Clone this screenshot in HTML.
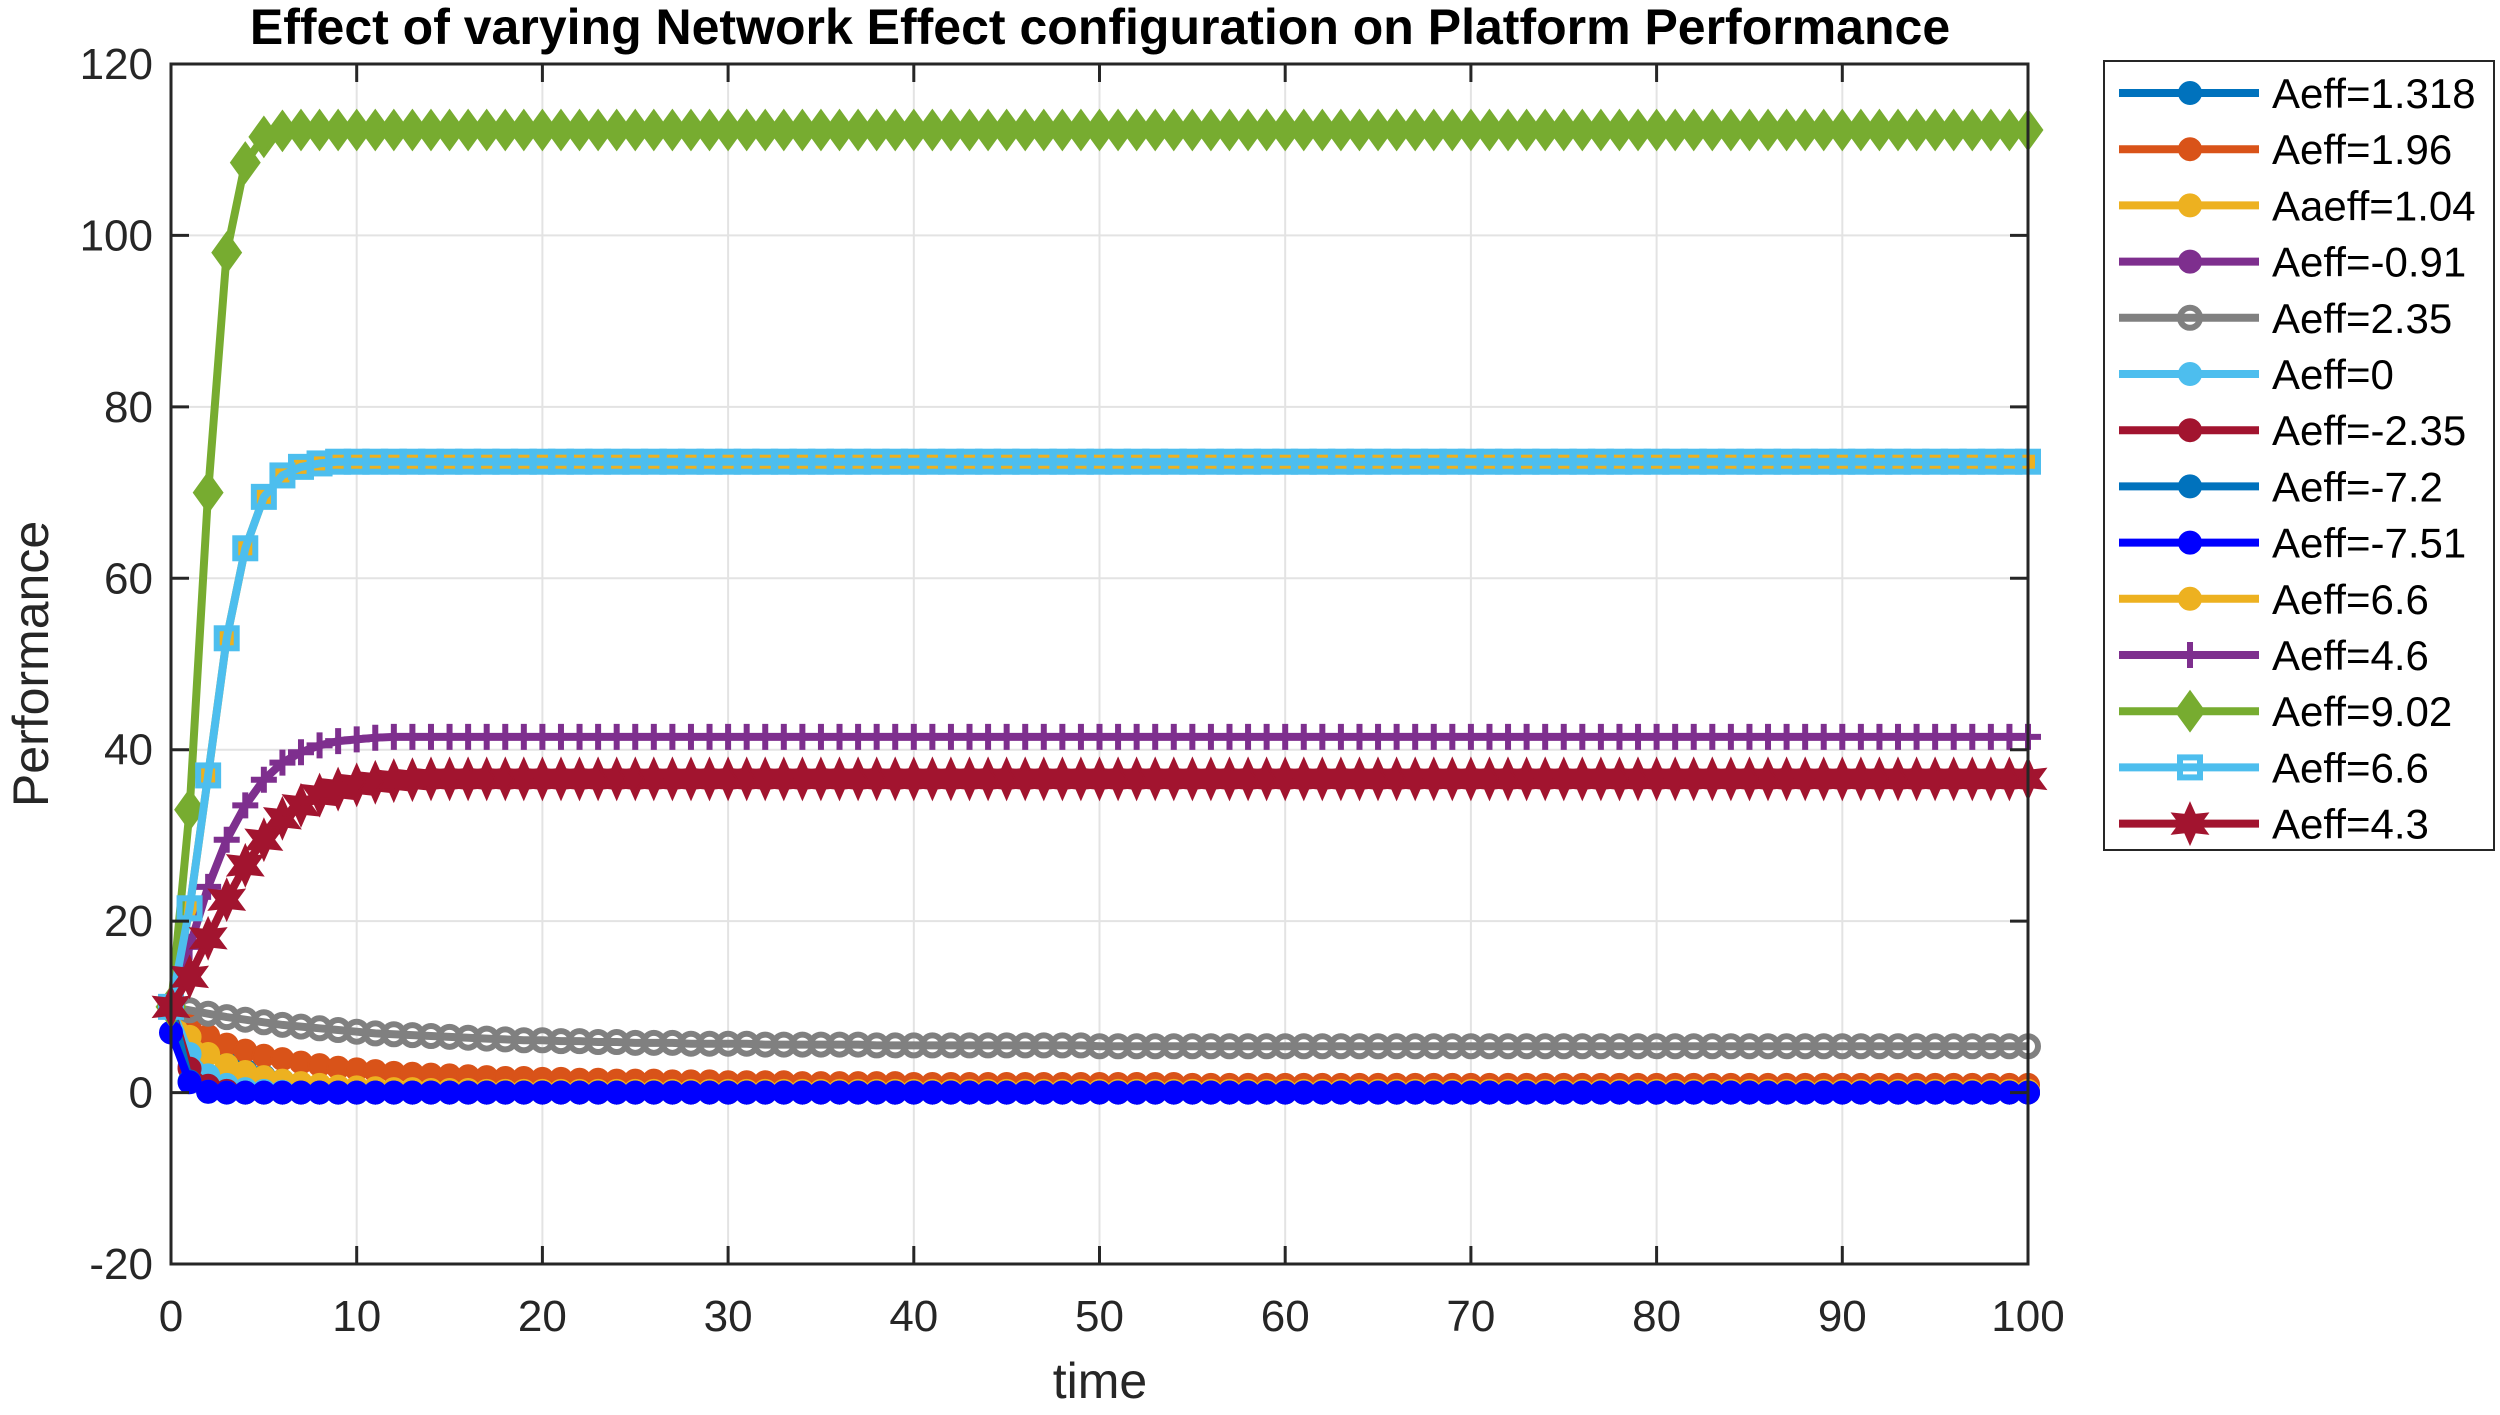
<!DOCTYPE html>
<html><head><meta charset="utf-8"><style>
html,body{margin:0;padding:0;background:#fff;}
svg{display:block;font-family:"Liberation Sans",Arial,sans-serif;}
</style></head><body>
<svg id="chart" width="2500" height="1415" viewBox="0 0 2500 1415">
<rect width="2500" height="1415" fill="#fff"/>
<text x="1100" y="44" text-anchor="middle" font-size="50" font-weight="bold" fill="#000">Effect of varying Network Effect configuration on Platform Performance</text>
<g id="grid"></g>
<g id="series"></g>
<g id="axes"></g>
<text x="1100" y="1398" text-anchor="middle" font-size="50" fill="#262626">time</text>
<text transform="translate(48,664) rotate(-90)" text-anchor="middle" font-size="50" fill="#262626">Performance</text>
<g id="legend"></g>
</svg>
<script>
const xTicks = [0,10,20,30,40,50,60,70,80,90,100];
const yTicks = [-20,0,20,40,60,80,100,120];
const times = [0,1,2,3,4,5,6,7,8,9,10,11,12,13,14,15,16,17,18,19,20,21,22,23,24,25,26,27,28,29,30,31,32,33,34,35,36,37,38,39,40,41,42,43,44,45,46,47,48,49,50,51,52,53,54,55,56,57,58,59,60,61,62,63,64,65,66,67,68,69,70,71,72,73,74,75,76,77,78,79,80,81,82,83,84,85,86,87,88,89,90,91,92,93,94,95,96,97,98,99,100];
const labels = ["Aeff=1.318","Aeff=1.96","Aaeff=1.04","Aeff=-0.91","Aeff=2.35","Aeff=0","Aeff=-2.35","Aeff=-7.2","Aeff=-7.51","Aeff=6.6","Aeff=4.6","Aeff=9.02","Aeff=6.6","Aeff=4.3"];
const s1318 = [10,7,5,3.6,2.6,1.9,1.4,1,0.8,0.6,0.5,0.4,0.3,0.3,0.2,0.2,0.2,0.1,0.1,0.1,0.1,0.1,0.1,0.1,0.1,0.1,0.1,0.1,0.1,0.1,0.1,0.1,0.1,0.1,0.1,0.1,0.1,0.1,0.1,0.1,0.1,0.1,0.1,0.1,0.1,0.1,0.1,0.1,0.1,0.1,0.1,0.1,0.1,0.1,0.1,0.1,0.1,0.1,0.1,0.1,0.1,0.1,0.1,0.1,0.1,0.1,0.1,0.1,0.1,0.1,0.1,0.1,0.1,0.1,0.1,0.1,0.1,0.1,0.1,0.1,0.1,0.1,0.1,0.1,0.1,0.1,0.1,0.1,0.1,0.1,0.1,0.1,0.1,0.1,0.1,0.1,0.1,0.1,0.1,0.1,0.1];
const s196 = [10,8,6.6,5.6,4.9,4.3,3.9,3.5,3.2,2.9,2.7,2.5,2.3,2.2,2.1,2,1.9,1.8,1.7,1.7,1.6,1.6,1.5,1.5,1.4,1.4,1.4,1.3,1.3,1.3,1.2,1.2,1.2,1.2,1.1,1.1,1.1,1.1,1.1,1.1,1,1,1,1,1,1,1,1,1,1,1,1,1,1,1,0.9,0.9,0.9,0.9,0.9,0.9,0.9,0.9,0.9,0.9,0.9,0.9,0.9,0.9,0.9,0.9,0.9,0.9,0.9,0.9,0.9,0.9,0.9,0.9,0.9,0.9,0.9,0.9,0.9,0.9,0.9,0.9,0.9,0.9,0.9,0.9,0.9,0.9,0.9,0.9,0.9,0.9,0.9,0.9,0.9,0.9];
const s104 = [10,6.5,4.5,3.2,2.4,1.8,1.4,1.1,0.9,0.7,0.6,0.5,0.4,0.4,0.3,0.3,0.3,0.2,0.2,0.2,0.2,0.2,0.2,0.2,0.2,0.2,0.2,0.2,0.2,0.2,0.2,0.2,0.2,0.2,0.2,0.2,0.2,0.2,0.2,0.2,0.2,0.2,0.2,0.2,0.2,0.2,0.2,0.2,0.2,0.2,0.2,0.2,0.2,0.2,0.2,0.2,0.2,0.2,0.2,0.2,0.2,0.2,0.2,0.2,0.2,0.2,0.2,0.2,0.2,0.2,0.2,0.2,0.2,0.2,0.2,0.2,0.2,0.2,0.2,0.2,0.2,0.2,0.2,0.2,0.2,0.2,0.2,0.2,0.2,0.2,0.2,0.2,0.2,0.2,0.2,0.2,0.2,0.2,0.2,0.2,0.2];
const sm091 = [10,3,0.8,0.2,0,0,0,0,0,0,0,0,0,0,0,0,0,0,0,0,0,0,0,0,0,0,0,0,0,0,0,0,0,0,0,0,0,0,0,0,0,0,0,0,0,0,0,0,0,0,0,0,0,0,0,0,0,0,0,0,0,0,0,0,0,0,0,0,0,0,0,0,0,0,0,0,0,0,0,0,0,0,0,0,0,0,0,0,0,0,0,0,0,0,0,0,0,0,0,0,0];
const s235 = [10,9.6,9.2,8.8,8.5,8.2,7.9,7.7,7.5,7.3,7.1,6.9,6.8,6.7,6.6,6.5,6.4,6.3,6.2,6.1,6.1,6,6,5.9,5.9,5.8,5.8,5.8,5.7,5.7,5.7,5.7,5.6,5.6,5.6,5.6,5.6,5.6,5.5,5.5,5.5,5.5,5.5,5.5,5.5,5.5,5.5,5.5,5.5,5.5,5.4,5.4,5.4,5.4,5.4,5.4,5.4,5.4,5.4,5.4,5.4,5.4,5.4,5.4,5.4,5.4,5.4,5.4,5.4,5.4,5.4,5.4,5.4,5.4,5.4,5.4,5.4,5.4,5.4,5.4,5.4,5.4,5.4,5.4,5.4,5.4,5.4,5.4,5.4,5.4,5.4,5.4,5.4,5.4,5.4,5.4,5.4,5.4,5.4,5.4,5.4];
const s0 = [10,4.5,2,0.9,0.4,0.2,0.1,0,0,0,0,0,0,0,0,0,0,0,0,0,0,0,0,0,0,0,0,0,0,0,0,0,0,0,0,0,0,0,0,0,0,0,0,0,0,0,0,0,0,0,0,0,0,0,0,0,0,0,0,0,0,0,0,0,0,0,0,0,0,0,0,0,0,0,0,0,0,0,0,0,0,0,0,0,0,0,0,0,0,0,0,0,0,0,0,0,0,0,0,0,0];
const sm235 = [10,2.8,0.8,0.2,0,0,0,0,0,0,0,0,0,0,0,0,0,0,0,0,0,0,0,0,0,0,0,0,0,0,0,0,0,0,0,0,0,0,0,0,0,0,0,0,0,0,0,0,0,0,0,0,0,0,0,0,0,0,0,0,0,0,0,0,0,0,0,0,0,0,0,0,0,0,0,0,0,0,0,0,0,0,0,0,0,0,0,0,0,0,0,0,0,0,0,0,0,0,0,0,0];
const sm72 = [10,1.3,0.1,0,0,0,0,0,0,0,0,0,0,0,0,0,0,0,0,0,0,0,0,0,0,0,0,0,0,0,0,0,0,0,0,0,0,0,0,0,0,0,0,0,0,0,0,0,0,0,0,0,0,0,0,0,0,0,0,0,0,0,0,0,0,0,0,0,0,0,0,0,0,0,0,0,0,0,0,0,0,0,0,0,0,0,0,0,0,0,0,0,0,0,0,0,0,0,0,0,0];
const sm751 = [7,1.2,0.1,0,0,0,0,0,0,0,0,0,0,0,0,0,0,0,0,0,0,0,0,0,0,0,0,0,0,0,0,0,0,0,0,0,0,0,0,0,0,0,0,0,0,0,0,0,0,0,0,0,0,0,0,0,0,0,0,0,0,0,0,0,0,0,0,0,0,0,0,0,0,0,0,0,0,0,0,0,0,0,0,0,0,0,0,0,0,0,0,0,0,0,0,0,0,0,0,0,0];
const s66a = [10,21.5,37,53,63.5,69.5,72,73,73.4,73.6,73.6,73.6,73.6,73.6,73.6,73.6,73.6,73.6,73.6,73.6,73.6,73.6,73.6,73.6,73.6,73.6,73.6,73.6,73.6,73.6,73.6,73.6,73.6,73.6,73.6,73.6,73.6,73.6,73.6,73.6,73.6,73.6,73.6,73.6,73.6,73.6,73.6,73.6,73.6,73.6,73.6,73.6,73.6,73.6,73.6,73.6,73.6,73.6,73.6,73.6,73.6,73.6,73.6,73.6,73.6,73.6,73.6,73.6,73.6,73.6,73.6,73.6,73.6,73.6,73.6,73.6,73.6,73.6,73.6,73.6,73.6,73.6,73.6,73.6,73.6,73.6,73.6,73.6,73.6,73.6,73.6,73.6,73.6,73.6,73.6,73.6,73.6,73.6,73.6,73.6,73.6];
const s46 = [10,17,24,29.5,33.5,36.5,38.5,39.7,40.5,41,41.2,41.4,41.5,41.5,41.5,41.5,41.5,41.5,41.5,41.5,41.5,41.5,41.5,41.5,41.5,41.5,41.5,41.5,41.5,41.5,41.5,41.5,41.5,41.5,41.5,41.5,41.5,41.5,41.5,41.5,41.5,41.5,41.5,41.5,41.5,41.5,41.5,41.5,41.5,41.5,41.5,41.5,41.5,41.5,41.5,41.5,41.5,41.5,41.5,41.5,41.5,41.5,41.5,41.5,41.5,41.5,41.5,41.5,41.5,41.5,41.5,41.5,41.5,41.5,41.5,41.5,41.5,41.5,41.5,41.5,41.5,41.5,41.5,41.5,41.5,41.5,41.5,41.5,41.5,41.5,41.5,41.5,41.5,41.5,41.5,41.5,41.5,41.5,41.5,41.5,41.5];
const s902 = [10,33,70,98,108.5,111.5,112.2,112.3,112.3,112.3,112.3,112.3,112.3,112.3,112.3,112.3,112.3,112.3,112.3,112.3,112.3,112.3,112.3,112.3,112.3,112.3,112.3,112.3,112.3,112.3,112.3,112.3,112.3,112.3,112.3,112.3,112.3,112.3,112.3,112.3,112.3,112.3,112.3,112.3,112.3,112.3,112.3,112.3,112.3,112.3,112.3,112.3,112.3,112.3,112.3,112.3,112.3,112.3,112.3,112.3,112.3,112.3,112.3,112.3,112.3,112.3,112.3,112.3,112.3,112.3,112.3,112.3,112.3,112.3,112.3,112.3,112.3,112.3,112.3,112.3,112.3,112.3,112.3,112.3,112.3,112.3,112.3,112.3,112.3,112.3,112.3,112.3,112.3,112.3,112.3,112.3,112.3,112.3,112.3,112.3,112.3];
const s66b = [10,21.5,37,53,63.5,69.5,72,73,73.4,73.6,73.6,73.6,73.6,73.6,73.6,73.6,73.6,73.6,73.6,73.6,73.6,73.6,73.6,73.6,73.6,73.6,73.6,73.6,73.6,73.6,73.6,73.6,73.6,73.6,73.6,73.6,73.6,73.6,73.6,73.6,73.6,73.6,73.6,73.6,73.6,73.6,73.6,73.6,73.6,73.6,73.6,73.6,73.6,73.6,73.6,73.6,73.6,73.6,73.6,73.6,73.6,73.6,73.6,73.6,73.6,73.6,73.6,73.6,73.6,73.6,73.6,73.6,73.6,73.6,73.6,73.6,73.6,73.6,73.6,73.6,73.6,73.6,73.6,73.6,73.6,73.6,73.6,73.6,73.6,73.6,73.6,73.6,73.6,73.6,73.6,73.6,73.6,73.6,73.6,73.6,73.6];
const s43 = [10,13.5,18,22.5,26.5,29.5,32,33.5,34.7,35.4,35.9,36.2,36.4,36.5,36.6,36.6,36.6,36.6,36.6,36.6,36.6,36.6,36.6,36.6,36.6,36.6,36.6,36.6,36.6,36.6,36.6,36.6,36.6,36.6,36.6,36.6,36.6,36.6,36.6,36.6,36.6,36.6,36.6,36.6,36.6,36.6,36.6,36.6,36.6,36.6,36.6,36.6,36.6,36.6,36.6,36.6,36.6,36.6,36.6,36.6,36.6,36.6,36.6,36.6,36.6,36.6,36.6,36.6,36.6,36.6,36.6,36.6,36.6,36.6,36.6,36.6,36.6,36.6,36.6,36.6,36.6,36.6,36.6,36.6,36.6,36.6,36.6,36.6,36.6,36.6,36.6,36.6,36.6,36.6,36.6,36.6,36.6,36.6,36.6,36.6,36.6];

const NS="http://www.w3.org/2000/svg";
const L=171,R=2028,T=64,B=1264;
const sx=t=>L+(t-0)/(100-0)*(R-L);
const sy=v=>T+(120-v)/(140)*(B-T);
function mk(tag,attrs,parent){const e=document.createElementNS(NS,tag);for(const k in attrs)e.setAttribute(k,attrs[k]);parent.appendChild(e);return e;}

const styles=[
 {c:"#0072BD",m:"circle",fill:true},
 {c:"#D95319",m:"circle",fill:true},
 {c:"#EDB120",m:"circle",fill:true},
 {c:"#7E2F8E",m:"circle",fill:true},
 {c:"#808080",m:"circle",fill:false},
 {c:"#4DBEEE",m:"circle",fill:true},
 {c:"#A2142F",m:"circle",fill:true},
 {c:"#0072BD",m:"circle",fill:true},
 {c:"#0000FF",m:"circle",fill:true},
 {c:"#EDB120",m:"circle",fill:true},
 {c:"#7E2F8E",m:"plus",fill:false},
 {c:"#77AC30",m:"diamond",fill:true},
 {c:"#4DBEEE",m:"square",fill:false},
 {c:"#A2142F",m:"hexagram",fill:true}
];
const data=[s1318,s196,s104,sm091,s235,s0,sm235,sm72,sm751,s66a,s46,s902,s66b,s43];

function marker(g,type,x,y,st){
  let e;
  if(type==="circle"){e=mk("circle",{cx:x,cy:y,r:st.fill?11:10,fill:st.fill?st.c:"none",stroke:st.c,"stroke-width":st.fill?2:6},g);}
  else if(type==="plus"){e=mk("path",{d:`M${x-13},${y}H${x+13}M${x},${y-13}V${y+13}`,stroke:st.c,"stroke-width":6,fill:"none"},g);}
  else if(type==="diamond"){e=mk("path",{d:`M${x},${y-18}L${x+13},${y}L${x},${y+18}L${x-13},${y}Z`,fill:st.c,stroke:st.c,"stroke-width":4},g);}
  else if(type==="square"){e=mk("rect",{x:x-10,y:y-10,width:20,height:20,fill:"none",stroke:st.c,"stroke-width":6},g);}
  else if(type==="hexagram"){let p=[];for(let i=0;i<12;i++){const a=-Math.PI/2+i*Math.PI/6;const r=i%2?10:20;p.push((x+r*Math.cos(a)).toFixed(1)+","+(y+r*Math.sin(a)).toFixed(1));}
    e=mk("polygon",{points:p.join(" "),fill:st.c,stroke:st.c,"stroke-width":2},g);}
  return e;
}

const grid=document.getElementById("grid");
xTicks.forEach(t=>{const l=mk("line",{x1:sx(t),x2:sx(t),y1:T,y2:B,stroke:"#e3e3e3","stroke-width":2},grid);

});
yTicks.forEach(v=>{const l=mk("line",{x1:L,x2:R,y1:sy(v),y2:sy(v),stroke:"#e3e3e3","stroke-width":2},grid);

});

const sg=document.getElementById("series");
data.forEach((vals,i)=>{
  const st=styles[i];
  const g=mk("g",{},sg);
  
  
  const pts=vals.map((v,j)=>sx(times[j]).toFixed(1)+","+sy(v).toFixed(1)).join(" ");
  const pl=mk("polyline",{points:pts,fill:"none",stroke:st.c,"stroke-width":8,"stroke-linejoin":"round"},g);
  
  
  vals.forEach((v,j)=>{const m=marker(g,st.m,sx(times[j]),sy(v),st);
    
    });
});

const ax=document.getElementById("axes");
const box=mk("rect",{x:L,y:T,width:R-L,height:B-T,fill:"none",stroke:"#262626","stroke-width":3},ax);


xTicks.forEach(t=>{
  mk("line",{x1:sx(t),x2:sx(t),y1:B,y2:B-18,stroke:"#262626","stroke-width":3},ax);
  mk("line",{x1:sx(t),x2:sx(t),y1:T,y2:T+18,stroke:"#262626","stroke-width":3},ax);
  const tx=mk("text",{x:sx(t),y:1331,"text-anchor":"middle","font-size":44,fill:"#262626"},ax);
  tx.textContent=t;
  
  
});
yTicks.forEach(v=>{
  mk("line",{x1:L,x2:L+18,y1:sy(v),y2:sy(v),stroke:"#262626","stroke-width":3},ax);
  mk("line",{x1:R,x2:R-18,y1:sy(v),y2:sy(v),stroke:"#262626","stroke-width":3},ax);
  const tx=mk("text",{x:153,y:sy(v)+15,"text-anchor":"end","font-size":44,fill:"#262626"},ax);
  tx.textContent=v;
  
  
});

const lg=document.getElementById("legend");
const lb=mk("rect",{x:2104,y:61,width:390,height:789,fill:"#fff",stroke:"#262626","stroke-width":2},lg);


labels.forEach((lab,i)=>{
  const st=styles[i];const y=93+i*56.2;
  const g=mk("g",{},lg);
  
  
  mk("line",{x1:2119,x2:2259,y1:y,y2:y,stroke:st.c,"stroke-width":8},g);
  marker(g,st.m,2190,y,st);
  const tx=mk("text",{x:2272,y:y+15,"font-size":42,fill:"#000"},g);
  tx.textContent=lab;
});
</script>
</body></html>
